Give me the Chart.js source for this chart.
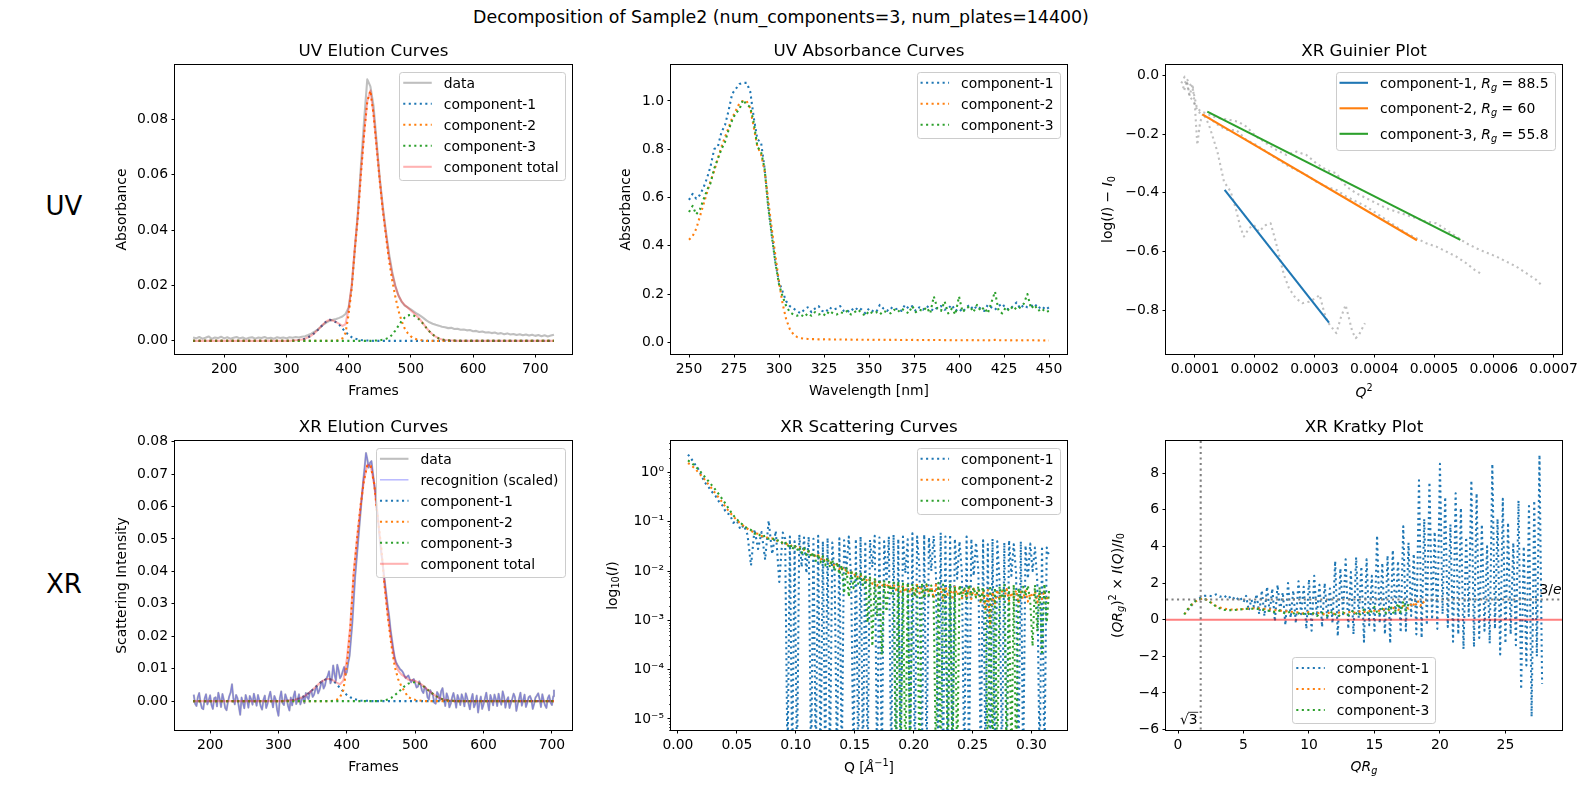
<!DOCTYPE html>
<html>
<head>
<meta charset="utf-8">
<title>Decomposition of Sample2</title>
<script src="https://cdn.jsdelivr.net/npm/chart.js"></script>
<style>
body { margin: 0; background: #fff; }
#fig { position: relative; width: 1589px; height: 789px; overflow: hidden; font-family: "DejaVu Sans", sans-serif; }
#fig canvas { position: absolute; left: 0; top: 0; }
.lbl { position: absolute; transform: translate(-50%, -50%); white-space: nowrap; line-height: 1; color: #000; }
</style>
</head>
<body>
<div id="fig">
  <div class="lbl" style="left:781px; top:18px; font-size:17.4px">Decomposition of Sample2 (num_components=3, num_plates=14400)</div>
  <div class="lbl" style="left:64px; top:206px; font-size:26px">UV</div>
  <div class="lbl" style="left:64px; top:584px; font-size:26px">XR</div>
</div>
<script>
// ---- UV elution ----
const UV_FRAMES = [150,155,160,165,170,175,180,185,190,195,200,205,210,215,220,225,230,235,240,245,
  250,255,260,265,270,275,280,285,290,295,300,305,310,315,320,325,330,335,340,345,
  350,355,360,365,370,375,380,385,390,395,400,405,410,415,420,425,430,435,440,445,
  450,455,460,465,470,475,480,485,490,495,500,505,510,515,520,525,530,535,540,545,
  550,555,560,565,570,575,580,585,590,595,600,605,610,615,620,625,630,635,640,645,
  650,655,660,665,670,675,680,685,690,695,700,705,710,715,720,725,730];
const UV_DATA = [0.0012,0.0009,0.0014,0.0008,0.0011,0.0016,0.0007,0.0012,0.0010,0.0015,
  0.0009,0.0013,0.0008,0.0011,0.0014,0.0009,0.0012,0.0007,0.0011,0.0013,
  0.0008,0.0012,0.0010,0.0014,0.0009,0.0011,0.0008,0.0013,0.0010,0.0012,
  0.0009,0.0013,0.0011,0.0014,0.0012,0.0015,0.0017,0.0021,0.0026,0.0033,
  0.0041,0.0050,0.0060,0.0067,0.0073,0.0076,0.0079,0.0083,0.0088,0.0097,
  0.0120,0.0195,0.0330,0.0470,0.0640,0.0800,0.0945,0.0920,0.0850,0.0720,
  0.0590,0.0485,0.0395,0.0315,0.0250,0.0200,0.0165,0.0142,0.0128,0.0121,
  0.0114,0.0106,0.0098,0.0091,0.0083,0.0074,0.0067,0.0062,0.0058,0.0055,
  0.0051,0.0049,0.0046,0.0047,0.0043,0.0044,0.0040,0.0041,0.0038,0.0039,
  0.0035,0.0036,0.0032,0.0034,0.0030,0.0031,0.0028,0.0030,0.0026,0.0028,
  0.0024,0.0027,0.0023,0.0025,0.0021,0.0024,0.0020,0.0023,0.0019,0.0022,
  0.0018,0.0021,0.0017,0.0020,0.0016,0.0019,0.0022];
const UV_FIT_X = [150,300,305,310,315,320,325,330,335,340,
  345,350,355,360,365,370,375,380,385,390,
  395,400,405,410,415,420,425,430,435,440,
  445,450,455,460,465,470,475,480,485,490,
  495,500,505,510,515,520,525,530,535,540,
  545,550,555,560,565,570,575,580,730];
const UV_C1 = [0,0,0,0.0001,0.0002,0.0003,0.0005,0.0008,0.0013,0.0019,
  0.0028,0.0038,0.005,0.0062,0.0072,0.0076,0.0073,0.0067,0.0058,0.0045,
  0.0032,0.0021,0.0013,0.0008,0.0005,0.0003,0.0002,0.0001,0.0001,0,
  0,0,0,0,0,0,0,0,0,0,
  0,0,0,0,0,0,0,0,0,0,
  0,0,0,0,0,0,0,0,0];
const UV_C2 = [0,0,0,0,0,0,0,0,0,0,
  0,0,0,0,0,0,0,0.0001,0.0003,0.0009,
  0.0028,0.0095,0.019,0.033,0.045,0.061,0.075,0.0865,0.0904,0.082,
  0.070,0.058,0.047,0.038,0.029,0.022,0.016,0.011,0.0073,0.0045,
  0.0028,0.0016,0.0009,0.0005,0.0003,0.0001,0,0,0,0,
  0,0,0,0,0,0,0,0,0];
const UV_C3 = [0,0,0,0,0,0,0,0,0,0,
  0,0,0,0,0,0,0,0,0,0,
  0,0,0,0,0,0,0,0,0,0.0001,
  0.0001,0.0002,0.0004,0.0007,0.0012,0.0022,0.0037,0.0054,0.0071,0.0084,
  0.0092,0.0094,0.0091,0.0084,0.0074,0.0061,0.0047,0.0034,0.0023,0.0015,
  0.0009,0.0005,0.0003,0.0002,0.0001,0.0001,0,0,0];
const UV_TOTAL = [0,0,0,0.0001,0.0002,0.0003,0.0005,0.0008,0.0013,0.0019,
  0.0028,0.0038,0.005,0.0062,0.0072,0.0076,0.0073,0.0068,0.0061,0.0054,
  0.006,0.0116,0.0203,0.0338,0.0455,0.0613,0.0752,0.0866,0.0905,0.0821,
  0.0701,0.0582,0.0474,0.0387,0.0302,0.0242,0.0197,0.0164,0.0144,0.0129,
  0.012,0.011,0.01,0.0089,0.0077,0.0062,0.0047,0.0034,0.0023,0.0015,
  0.0009,0.0005,0.0003,0.0002,0.0001,0.0001,0,0,0];
const UV_EL_XTICKS = [200,300,400,500,600,700];
const UV_EL_XLABELS = ['200','300','400','500','600','700'];
const UV_EL_YTICKS = [0,0.02,0.04,0.06,0.08];
const UV_EL_YLABELS = ['0.00','0.02','0.04','0.06','0.08'];

// ---- UV absorbance ----
const WL = [250,252,254,256,258,260,262,264,266,268,270,272,274,276,278,280,282,284,286,288,
  290,292,294,296,298,300,302,304,306,308,310,312,314,316,318,320,322,324,326,328,
  330,332,334,336,338,340,342,344,346,348,350,352,354,356,358,360,362,364,366,368,
  370,372,374,376,378,380,382,384,386,388,390,392,394,396,398,400,402,404,406,408,
  410,412,414,416,418,420,422,424,426,428,430,432,434,436,438,440,442,444,446,448,450];
const UV_A1 = [0.59,0.615,0.595,0.61,0.64,0.68,0.73,0.80,0.81,0.87,
  0.90,0.96,1.03,1.05,1.07,1.075,1.075,1.04,0.93,0.84,
  0.83,0.72,0.57,0.45,0.33,0.25,0.21,0.17,0.15,0.14,
  0.13,0.12,0.135,0.145,0.125,0.14,0.15,0.13,0.125,0.145,
  0.135,0.14,0.15,0.13,0.125,0.14,0.13,0.145,0.135,0.12,
  0.14,0.13,0.125,0.155,0.14,0.13,0.145,0.135,0.14,0.13,
  0.155,0.14,0.15,0.13,0.145,0.135,0.15,0.14,0.13,0.145,
  0.15,0.135,0.14,0.155,0.13,0.14,0.125,0.145,0.155,0.135,
  0.15,0.14,0.13,0.155,0.145,0.135,0.15,0.16,0.14,0.135,
  0.15,0.165,0.14,0.155,0.145,0.15,0.16,0.14,0.15,0.135,0.145];
const UV_A2 = [0.425,0.44,0.47,0.52,0.57,0.62,0.67,0.71,0.76,0.81,
  0.85,0.89,0.93,0.96,0.99,1.0,1.0,0.97,0.89,0.81,
  0.78,0.71,0.59,0.47,0.36,0.25,0.16,0.095,0.055,0.033,
  0.022,0.017,0.015,0.014,0.013,0.013,0.012,0.012,0.0125,0.012,
  0.0115,0.012,0.0115,0.011,0.0115,0.011,0.0105,0.011,0.0105,0.011,
  0.0105,0.01,0.011,0.0105,0.01,0.0105,0.01,0.0105,0.01,0.0095,
  0.01,0.0095,0.01,0.0095,0.009,0.0095,0.01,0.009,0.0095,0.009,
  0.0095,0.009,0.0085,0.009,0.0085,0.008,0.0085,0.009,0.0085,0.009,
  0.0085,0.009,0.0085,0.008,0.0085,0.01,0.0085,0.008,0.0085,0.008,
  0.0085,0.008,0.0085,0.008,0.0085,0.008,0.0085,0.008,0.0075,0.008,0.0075];
const UV_A3 = [0.54,0.565,0.53,0.55,0.59,0.63,0.66,0.72,0.76,0.80,
  0.83,0.88,0.92,0.95,0.965,1.005,0.985,0.975,0.91,0.81,
  0.79,0.72,0.56,0.44,0.33,0.24,0.19,0.15,0.125,0.115,
  0.11,0.115,0.105,0.12,0.11,0.125,0.115,0.12,0.11,0.13,
  0.12,0.115,0.125,0.12,0.13,0.115,0.125,0.135,0.12,0.11,
  0.13,0.12,0.125,0.115,0.13,0.125,0.12,0.135,0.125,0.14,
  0.13,0.12,0.15,0.125,0.135,0.13,0.145,0.12,0.19,0.14,
  0.13,0.17,0.12,0.14,0.115,0.19,0.125,0.14,0.15,0.125,
  0.155,0.13,0.145,0.12,0.165,0.21,0.13,0.12,0.145,0.13,
  0.15,0.135,0.145,0.16,0.20,0.14,0.155,0.13,0.14,0.125,0.13];
const UV_AB_XTICKS = [250,275,300,325,350,375,400,425,450];
const UV_AB_XLABELS = ['250','275','300','325','350','375','400','425','450'];
const UV_AB_YTICKS = [0,0.2,0.4,0.6,0.8,1.0];
const UV_AB_YLABELS = ['0.0','0.2','0.4','0.6','0.8','1.0'];

// ---- XR Guinier ----
const GUI_A_X = [0.0000822,0.0000866,0.0000911,0.000096,0.0001,0.0001039,0.0001085,0.000114,0.0001234,0.0001375,
  0.0001485,0.0001597,0.0001681,0.0001764,0.000182,0.0001903,0.0001987,0.000207,0.0002183,0.0002266,
  0.000235,0.0002433,0.0002489,0.0002572,0.0002684,0.0002796,0.0002907,0.0003019,0.0003086,0.0003158,
  0.0003215,0.0003298,0.0003365,0.0003437,0.000352,0.0003576,0.0003632,0.0003688,0.0003743,0.00038,0.0003844];
const GUI_A_Y = [-0.05,-0.02,-0.07,-0.03,-0.11,-0.237,-0.16,-0.13,-0.169,-0.26,
  -0.362,-0.396,-0.453,-0.521,-0.549,-0.521,-0.51,-0.532,-0.51,-0.504,
  -0.566,-0.635,-0.68,-0.725,-0.759,-0.776,-0.771,-0.759,-0.748,-0.805,
  -0.839,-0.861,-0.878,-0.827,-0.782,-0.827,-0.873,-0.895,-0.884,-0.861,-0.844];
const GUI_B_X = [0.0000799,0.0000855,0.0000911,0.0000978,0.000105,0.0001134,0.0001245,0.0001385,0.0001524,0.0001691,
  0.0001859,0.0002026,0.0002193,0.0002361,0.0002528,0.0002695,0.0002863,0.000303,0.0003197,0.0003364,
  0.0003532,0.0003699,0.0003866,0.0004034,0.0004201,0.0004368,0.0004535,0.0004703,0.000487,0.0005037,
  0.0005205,0.0005372,0.0005539,0.0005679,0.0005773];
const GUI_B_Y = [-0.0443,-0.0159,-0.0726,-0.0896,-0.1237,-0.135,-0.1464,-0.1691,-0.1861,-0.1861,
  -0.2201,-0.2372,-0.2599,-0.2826,-0.3052,-0.3223,-0.3393,-0.362,-0.379,-0.3904,
  -0.413,-0.4301,-0.4471,-0.4698,-0.4925,-0.5152,-0.5379,-0.5549,-0.5719,-0.5833,
  -0.6003,-0.6173,-0.64,-0.6627,-0.674];
const GUI_C_X = [0.0000771,0.0000827,0.0000866,0.0000911,0.0000967,0.0001033,0.0001106,0.000119,0.0001301,0.0001413,
  0.000158,0.0001719,0.0001859,0.0002026,0.0002193,0.0002361,0.0002528,0.0002695,0.0002863,0.000303,
  0.0003197,0.0003364,0.0003532,0.0003699,0.0003866,0.0004034,0.0004201,0.0004368,0.0004535,0.0004703,
  0.000487,0.0005037,0.0005205,0.0005372,0.0005539,0.0005706,0.0005874,0.0006041,0.0006208,0.0006376,
  0.0006543,0.000671,0.0006822];
const GUI_C_Y = [-0.0272,-0.0045,-0.0136,-0.0272,-0.0499,-0.1123,-0.1237,-0.1294,-0.1407,-0.1464,
  -0.1521,-0.1577,-0.1748,-0.2088,-0.2315,-0.2542,-0.2712,-0.2599,-0.2712,-0.2996,
  -0.3223,-0.3336,-0.379,-0.4017,-0.4187,-0.4357,-0.4528,-0.4641,-0.4755,-0.4868,
  -0.4982,-0.5038,-0.5265,-0.5492,-0.5719,-0.5889,-0.6037,-0.6173,-0.6343,-0.6514,
  -0.674,-0.6967,-0.7194];
const GUI_FIT1_X = [0.0001496,0.0003242], GUI_FIT1_Y = [-0.390,-0.842];
const GUI_FIT2_X = [0.0001123,0.0004714], GUI_FIT2_Y = [-0.1328,-0.5617];
const GUI_FIT3_X = [0.0001206,0.0005439], GUI_FIT3_Y = [-0.1237,-0.5606];
const RG = ['88.5','60','55.8'];
const GUI_XTICKS = [0.0001,0.0002,0.0003,0.0004,0.0005,0.0006,0.0007];
const GUI_XLABELS = ['0.0001','0.0002','0.0003','0.0004','0.0005','0.0006','0.0007'];
const GUI_YTICKS = [-0.8,-0.6,-0.4,-0.2,0];
const GUI_YLABELS = ['\u22120.8','\u22120.6','\u22120.4','\u22120.2','0.0'];

// ---- XR elution ----
const XR_FRAMES = [176,178,180,182,184,186,188,190,192,194,196,198,200,202,204,206,208,210,212,214,
  216,218,220,222,224,226,228,230,232,234,236,238,240,242,244,246,248,250,252,254,
  256,258,260,262,264,266,268,270,272,274,276,278,280,282,284,286,288,290,292,294,
  296,298,300,302,304,306,308,310,312,314,316,318,320,322,324,326,328,330,332,334,
  336,338,340,342,344,346,348,350,352,354,356,358,360,362,364,366,368,370,372,374,
  376,378,380,382,384,386,388,390,392,394,396,398,400,402,404,406,408,410,412,414,
  416,418,420,422,424,426,428,430,432,434,436,438,440,442,444,446,448,450,452,454,
  456,458,460,462,464,466,468,470,472,474,476,478,480,482,484,486,488,490,492,494,
  496,498,500,502,504,506,508,510,512,514,516,518,520,522,524,526,528,530,532,534,
  536,538,540,542,544,546,548,550,552,554,556,558,560,562,564,566,568,570,572,574,
  576,578,580,582,584,586,588,590,592,594,596,598,600,602,604,606,608,610,612,614,
  616,618,620,622,624,626,628,630,632,634,636,638,640,642,644,646,648,650,652,654,
  656,658,660,662,664,666,668,670,672,674,676,678,680,682,684,686,688,690,692,694,
  696,698,700,702,703];
const XR_DATA = [0.002,-0.0008,-0.0015,0.0012,0.0025,-0.0005,-0.0022,-0.0025,0.0008,0.0021,
  -0.001,0.0003,0.0018,-0.0012,-0.0024,0.0009,0.0012,-0.0016,0.0026,0.0007,
  -0.0018,0.0022,0.0004,-0.0021,-0.0028,-0.0003,0.0015,0.0027,0.0052,0.0008,
  -0.001,0.0019,0.0009,-0.0017,-0.0042,0.0011,-0.0005,-0.0022,0.0019,0.0004,
  -0.002,0.0016,0.0006,-0.0011,0.0023,0.0005,-0.0014,0.0019,0.0002,-0.0016,
  -0.0026,0.0004,0.0017,-0.0021,-0.0008,0.0013,0.0029,0.0004,-0.0019,0.0016,
  0.0005,-0.0027,-0.0045,0.0009,0.003,-0.0006,-0.0012,0.0021,0.0008,-0.0015,
  -0.0029,0.0011,-0.0013,0.0014,0.003,-0.0009,0.0004,0.0021,-0.001,0.0004,
  0.0015,-0.0006,0.0025,0.0012,0.0006,0.0028,0.0032,0.0013,0.002,0.0036,
  0.0045,0.0024,0.0034,0.0051,0.0062,0.0039,0.0048,0.0069,0.0078,0.0092,
  0.0055,0.0067,0.011,0.0083,0.0063,0.0112,0.0095,0.0071,0.0078,0.0092,
  0.0105,0.0081,0.009,0.0118,0.014,0.019,0.024,0.031,0.038,0.043,
  0.048,0.053,0.058,0.063,0.068,0.072,0.0765,0.0745,0.072,0.0735,
  0.074,0.0705,0.067,0.064,0.06,0.055,0.05,0.046,0.043,0.0395,
  0.036,0.0325,0.029,0.026,0.022,0.019,0.016,0.0135,0.012,0.0112,
  0.0105,0.0098,0.0095,0.0089,0.008,0.0071,0.0075,0.0079,0.0068,0.0058,
  0.0065,0.0068,0.0055,0.0042,0.0045,0.0061,0.005,0.0032,0.0025,0.0045,
  0.0038,0.0012,0.0005,0.0034,0.0025,0.0018,-0.0005,-0.0008,0.0028,0.0021,
  0.0002,0.0031,0.004,0.0009,-0.0015,0.0024,0.0012,-0.0019,-0.0008,0.0011,
  0.0025,0.0005,-0.002,0.0019,0.0006,-0.0012,0.0021,0.0008,-0.0016,0.0024,
  0.001,-0.0007,-0.0025,0.0005,0.0022,-0.0019,-0.0008,0.0017,-0.0035,-0.0006,
  0.0014,-0.0024,-0.001,0.0008,0.0026,-0.0004,-0.0028,0.0019,0.0005,-0.0013,
  0.002,0.0006,-0.0015,0.0023,0.0003,-0.0011,0.003,0.0014,-0.002,0.0003,
  0.0012,-0.0021,-0.0006,0.0007,0.0023,0.0012,-0.003,-0.0009,0.0008,0.0026,
  -0.0014,0.0002,0.002,-0.0018,-0.0005,0.0012,0.0016,0.0004,-0.0024,-0.0008,
  0.0011,0.0017,0.0024,0.0006,-0.0018,0.0021,0.0002,-0.0013,-0.0021,0.0009,
  0.0018,-0.0004,-0.0012,0.0015,0.0035];
const XR_FIT_X = [175,300,305,310,315,320,325,330,335,340,
  345,350,355,360,365,370,375,380,385,390,
  395,400,405,410,415,420,425,430,435,440,
  445,450,455,460,465,470,475,480,485,490,
  495,500,505,510,515,520,525,530,535,540,
  545,550,555,560,565,570,575,580,703];
const XR_C1 = [0,0,0,0.0001,0.0002,0.0003,0.0005,0.0008,0.0012,0.0018,
  0.0026,0.0035,0.0045,0.0055,0.0063,0.0068,0.0068,0.0063,0.0053,0.004,
  0.0029,0.0019,0.0012,0.0007,0.0004,0.0002,0.0001,0.0001,0,0,
  0,0,0,0,0,0,0,0,0,0,
  0,0,0,0,0,0,0,0,0,0,
  0,0,0,0,0,0,0,0,0];
const XR_C2 = [0,0,0,0,0,0,0,0,0,0,
  0,0,0,0,0,0,0,0.0001,0.0004,0.0012,
  0.0035,0.011,0.022,0.039,0.050,0.060,0.068,0.0728,0.0725,0.067,
  0.057,0.048,0.036,0.026,0.0175,0.0107,0.0068,0.0045,0.0028,0.0012,
  0.0007,0.0004,0.0002,0.0001,0,0,0,0,0,0,
  0,0,0,0,0,0,0,0,0];
const XR_C3 = [0,0,0,0,0,0,0,0,0,0,
  0,0,0,0,0,0,0,0,0,0,
  0,0,0,0,0,0,0,0,0,0,
  0,0.0001,0.0002,0.0005,0.001,0.0018,0.0027,0.0037,0.0047,0.0054,
  0.0058,0.0058,0.0055,0.0049,0.0041,0.0032,0.0024,0.0016,0.001,0.0006,
  0.0003,0.0002,0.0001,0,0,0,0,0,0];
const XR_TOTAL = [0,0,0,0.0001,0.0002,0.0003,0.0005,0.0008,0.0012,0.0018,
  0.0026,0.0035,0.0045,0.0055,0.0063,0.0068,0.0068,0.0064,0.0057,0.0052,
  0.0064,0.0129,0.0232,0.0397,0.0504,0.0602,0.0681,0.0729,0.0725,0.067,
  0.057,0.0481,0.0362,0.0265,0.0185,0.0125,0.0095,0.0082,0.0075,0.0066,
  0.0065,0.0062,0.0057,0.005,0.0041,0.0032,0.0024,0.0016,0.001,0.0006,
  0.0003,0.0002,0.0001,0,0,0,0,0,0];
const XR_EL_YTICKS = [0,0.01,0.02,0.03,0.04,0.05,0.06,0.07,0.08];
const XR_EL_YLABELS = ['0.00','0.01','0.02','0.03','0.04','0.05','0.06','0.07','0.08'];

// ---- XR scattering (values below the axis floor read as 1e-6) ----
const XR_Q = [0.0085,0.011,0.014,0.017,0.020,0.023,0.026,0.029,0.032,0.035,
  0.038,0.041,0.044,0.047,0.050,0.053,0.056,0.059,0.062,0.065,
  0.068,0.071,0.074,0.077,0.080,0.083,0.086,0.089,
  0.091,0.093,0.095,0.097,0.099,0.101,0.103,0.105,0.107,0.109,
  0.111,0.113,0.115,0.117,0.119,0.121,0.123,0.125,0.127,0.129,
  0.131,0.133,0.135,0.137,0.139,0.141,0.143,0.145,0.147,0.149,
  0.151,0.153,0.155,0.157,0.159,0.161,0.163,0.165,0.167,0.169,
  0.171,0.173,0.175,0.177,0.179,0.181,0.183,0.185,0.187,0.189,
  0.191,0.193,0.195,0.197,0.199,0.201,0.203,0.205,0.207,0.209,
  0.211,0.213,0.215,0.217,0.219,0.221,0.223,0.225,0.227,0.229,
  0.231,0.233,0.235,0.237,0.239,0.241,0.243,0.245,0.247,0.249,
  0.251,0.253,0.255,0.257,0.259,0.261,0.263,0.265,0.267,0.269,
  0.271,0.273,0.275,0.277,0.279,0.281,0.283,0.285,0.287,0.289,
  0.291,0.293,0.295,0.297,0.299,0.301,0.303,0.305,0.307,0.309,
  0.311,0.313,0.315];
const XR_I1 = [2.3,1.95,1.5,1.2,0.85,0.62,0.50,0.40,0.33,0.25,
  0.21,0.15,0.14,0.095,0.105,0.07,0.085,0.055,0.013,0.07,
  0.028,0.062,0.017,0.105,0.022,0.065,0.006,0.06,
  0.045,1e-6,0.05,1e-6,0.04,1e-6,0.055,0.012,0.048,0.009,
  0.05,1e-6,0.045,1e-6,0.052,1e-6,0.04,1e-6,0.047,1e-6,
  0.038,0.008,1e-6,0.046,1e-6,0.042,0.01,0.05,0.007,1e-6,
  0.045,1e-6,0.05,1e-6,0.04,1e-6,0.043,0.012,0.052,1e-6,
  0.048,1e-6,0.04,0.006,0.05,1e-6,0.055,1e-6,0.045,1e-6,
  0.05,0.009,0.044,1e-6,0.058,1e-6,0.05,0.011,1e-6,0.055,
  1e-6,0.048,0.01,0.052,0.008,1e-6,0.06,1e-6,0.05,1e-6,
  0.055,1e-6,0.045,0.007,0.04,0.009,1e-6,0.05,1e-6,0.045,
  0.008,0.038,0.01,1e-6,0.042,1e-6,0.035,1e-6,0.045,1e-6,
  0.04,0.006,1e-6,0.038,1e-6,0.042,0.008,0.035,0.009,1e-6,
  0.04,1e-6,0.033,0.007,0.036,0.01,0.03,0.006,1e-6,0.032,
  1e-6,0.03,0.02];
const XR_I2 = [1.55,1.42,1.22,1.02,0.85,0.70,0.57,0.46,0.37,0.30,
  0.24,0.19,0.155,0.128,0.107,0.092,0.081,0.072,0.066,0.058,
  0.057,0.051,0.050,0.046,0.046,0.041,0.041,0.037,
  0.038,0.034,0.035,0.031,0.033,0.029,0.030,0.026,0.027,0.024,
  0.025,0.021,0.023,0.019,0.021,0.017,0.019,0.015,0.017,0.0145,
  0.0155,0.0125,0.014,0.011,0.0125,0.0098,0.011,0.0088,0.0097,0.0079,
  0.0089,0.0072,0.0082,0.0066,0.0074,0.0059,0.0068,0.0055,0.0064,0.005,
  0.0062,0.0049,0.0058,0.0046,0.0056,0.0042,0.0054,0.0041,0.0051,0.0038,
  0.005,0.0037,0.0052,0.0036,0.0049,0.0033,0.0055,0.0035,0.0047,0.0031,
  0.0051,0.0036,0.0048,0.0028,0.0053,0.0034,0.0046,0.0024,0.0049,0.0033,
  0.0044,0.0029,0.0048,0.0032,0.0045,0.0028,0.0043,0.0031,0.0047,0.0027,
  0.0044,0.003,0.0042,0.0022,0.004,0.0016,0.0041,0.0008,0.0038,0.0021,
  0.0042,0.0026,0.0039,0.0029,0.0043,0.0025,0.0037,0.0028,0.0041,0.0022,
  0.0038,0.0027,0.004,0.0024,0.0036,0.0029,0.0039,0.0023,0.0037,0.0027,
  0.004,0.0025,0.0035];
const XR_I3 = [1.75,1.60,1.38,1.18,0.98,0.80,0.66,0.54,0.44,0.35,
  0.28,0.22,0.17,0.135,0.112,0.095,0.083,0.073,0.068,0.057,
  0.058,0.049,0.052,0.045,0.047,0.040,0.043,0.036,
  0.039,0.031,0.036,0.027,0.034,0.026,0.031,0.023,0.029,0.021,
  0.026,0.019,0.024,0.016,0.022,0.015,0.020,0.013,0.019,0.012,
  0.017,0.010,0.015,0.0085,0.013,0.0035,0.012,0.003,0.0105,0.0045,
  0.0095,0.0055,0.0088,0.0052,0.0082,0.0009,0.0078,0.0003,0.0072,0.0012,
  0.0068,0.0002,0.0065,0.0015,0.006,0.0035,0.0058,1e-6,0.0062,1e-6,
  0.0056,1e-6,0.0058,2e-6,0.0055,0.003,0.0052,1e-6,0.0057,0.0028,
  0.0054,0.0032,0.0051,0.0026,1e-6,0.0058,1e-6,0.0053,0.0031,1e-6,
  0.0055,1e-6,0.0049,1e-6,0.0052,0.003,0.0048,0.0027,0.0053,0.0031,
  0.0046,0.0029,0.0049,0.0025,0.0047,0.0022,1e-6,0.0051,1e-6,0.0046,
  1e-6,0.0049,0.0028,0.0052,1e-6,0.0047,1e-6,0.0053,1e-6,0.0045,
  0.0026,0.0048,0.0031,0.0051,0.0024,0.0003,0.0052,0.0006,0.0047,0.0002,
  0.0055,0.0009,0.0042];
const SC_XTICKS = [0,0.05,0.10,0.15,0.20,0.25,0.30];
const SC_XLABELS = ['0.00','0.05','0.10','0.15','0.20','0.25','0.30'];
const SC_YTICKS = [1e-5,1e-4,1e-3,1e-2,1e-1,1];
const SC_YLABELS = ['10\u207B\u2075','10\u207B\u2074','10\u207B\u00B3','10\u207B\u00B2','10\u207B\u00B9','10\u2070'];

// ---- XR Kratky ----
const KR_X1 = [0.75,1.0,1.25,1.5,1.75,2.0,2.3,2.6,2.9,3.2,3.5,3.8,4.1,4.4,4.7,5.0,
  5.2,5.4,5.6,5.8,6.0,6.2,6.4,6.6,6.8,7.0,
  7.2,7.4,7.6,7.8,8.0,8.2,8.4,8.6,8.8,9.0,
  9.2,9.4,9.6,9.8,10.0,10.2,10.4,10.6,10.8,11.0,
  11.2,11.4,11.6,11.8,12.0,12.2,12.4,12.6,12.8,13.0,
  13.2,13.4,13.6,13.8,14.0,14.2,14.4,14.6,14.8,15.0,
  15.2,15.4,15.6,15.8,16.0,16.2,16.4,16.6,16.8,17.0,
  17.2,17.4,17.6,17.8,18.0,18.2,18.4,18.6,18.8,19.0,
  19.2,19.4,19.6,19.8,20.0,20.2,20.4,20.6,20.8,21.0,
  21.2,21.4,21.6,21.8,22.0,22.2,22.4,22.6,22.8,23.0,
  23.2,23.4,23.6,23.8,24.0,24.2,24.4,24.6,24.8,25.0,
  25.2,25.4,25.6,25.8,26.0,26.2,26.4,26.6,26.8,27.0,
  27.2,27.4,27.6,27.8];
const KR_Y1 = [0.52,0.75,0.95,1.1,1.22,1.3,1.32,1.28,1.38,1.25,1.33,1.15,1.3,1.05,1.25,0.95,
  1.3,0.5,1.1,0.7,1.4,0.3,1.6,0.2,1.8,0.4,
  1.7,-0.1,1.9,0.5,1.5,-0.3,2.0,0.1,1.6,-0.2,
  2.1,0.3,1.8,-0.5,2.2,-0.6,2.4,0.2,1.9,-0.4,
  2.0,0.0,1.7,-0.2,3.2,-0.9,2.8,0.3,3.3,-0.5,
  2.6,-0.8,3.4,0.1,2.9,-1.2,3.3,-0.3,2.4,-0.6,
  4.6,-0.2,3.1,-0.8,3.5,-1.3,3.8,0.2,3.2,-0.7,
  5.1,-0.6,4.2,0.2,3.6,-0.8,7.6,-1.0,5.5,-0.3,
  7.5,0.0,4.8,-0.5,8.5,0.3,6.7,-0.4,5.2,-1.2,
  6.9,-0.8,6.1,-1.6,4.5,0.2,7.6,-1.5,6.9,-1.0,
  5.2,-0.6,4.0,-1.3,8.5,-0.5,5.5,-1.9,6.6,-1.3,
  5.3,-0.8,4.2,-1.4,6.5,-3.8,4.0,-2.5,6.2,-5.3,
  6.5,-2.0,9.0,-3.5];
const KR_X2 = [0.5,0.7,0.9,1.1,1.3,1.5,1.7,1.9,2.1,2.3,2.5,2.7,2.9,3.1,3.4,3.7,4.0,4.4,4.8,5.2,
  5.6,6.0,6.4,6.8,7.2,7.6,8.0,8.4,8.8,9.2,9.6,10.0,10.4,10.8,11.2,11.6,12.0,12.4,12.8,13.2,
  13.6,14.0,14.4,14.8,15.2,15.6,16.0,16.4,16.8,17.2,17.6,17.9,18.1,18.3,18.5,18.7,18.9];
const KR_Y2 = [0.3,0.5,0.7,0.85,0.97,1.07,1.12,1.15,1.12,1.05,0.95,0.85,0.75,0.68,0.62,0.58,0.56,0.55,0.57,0.6,
  0.62,0.63,0.6,0.58,0.55,0.5,0.48,0.45,0.42,0.4,0.33,0.42,0.3,0.38,0.28,0.4,0.3,0.42,0.33,0.45,
  0.35,0.5,0.38,0.55,0.42,0.6,0.48,0.65,0.52,0.75,0.6,0.95,0.7,1.05,0.75,1.0,0.8];
const KR_X3 = [0.47,0.65,0.85,1.05,1.25,1.45,1.65,1.85,2.05,2.25,2.45,2.65,2.85,3.05,3.3,3.6,3.9,4.2,4.6,5.0,
  5.4,5.8,6.2,6.6,7.0,7.4,7.8,8.2,8.6,9.0,9.4,9.8,10.2,10.6,11.0,11.4,11.8,12.2,12.6,13.0,
  13.4,13.8,14.2,14.6,15.0,15.3,15.6,15.9,16.2,16.5,16.8,17.0,17.2,17.4,17.6];
const KR_Y3 = [0.28,0.48,0.68,0.85,0.98,1.07,1.13,1.15,1.12,1.05,0.95,0.85,0.75,0.66,0.58,0.53,0.52,0.51,0.55,0.58,
  0.6,0.6,0.58,0.52,0.48,0.42,0.5,0.32,0.45,0.28,0.4,0.25,0.42,0.2,0.38,0.22,0.45,0.15,0.4,0.25,
  0.5,0.2,0.55,0.3,0.7,0.25,0.6,0.35,0.75,0.3,0.9,0.4,1.0,0.5,0.85];
const KR_HLINE = 3 / Math.E;      // 3/e guide
const KR_VLINE = Math.sqrt(3);    // sqrt(3) guide
const KR_XTICKS = [0,5,10,15,20,25];
const KR_XLABELS = ['0','5','10','15','20','25'];
const KR_YTICKS = [-6,-4,-2,0,2,4,6,8];
const KR_YLABELS = ['\u22126','\u22124','\u22122','0','2','4','6','8'];

// ---------- styling helpers ----------
const C0 = '#1f77b4', C1 = '#ff7f0e', C2 = '#2ca02c';
const LW = 2.08;
const DOT = [2.08, 3.43];
const FAM = '"DejaVu Sans"';
const TICK_PX = 13.9, TITLE_PX = 16.7;
Chart.defaults.font.family = 'DejaVu Sans';
Chart.defaults.color = '#000';

function xy(xs, ys) { return xs.map((x, i) => ({x: x, y: ys[i]})); }
function line(xs, ys, color, extra) {
  return Object.assign({
    data: xy(xs, ys), borderColor: color, borderWidth: LW, showLine: true,
    pointRadius: 0, pointHoverRadius: 0, borderJoinStyle: 'round', tension: 0, fill: false
  }, extra || {});
}
function dotted(xs, ys, color, label) { return line(xs, ys, color, {borderDash: DOT, label: label}); }

// tiny mathtext: $..$ = math (letters italic), _x / _{..} sub, ^x / ^{..} sup
function parseRich(str) {
  const out = [];
  let math = false, i = 0;
  const push = (t, it, s) => {
    const last = out[out.length - 1];
    if (last && last.it === it && last.s === s) last.t += t; else out.push({t: t, it: it, s: s});
  };
  while (i < str.length) {
    const c = str[i];
    if (c === '$') { math = !math; i++; continue; }
    if (math && (c === '_' || c === '^')) {
      let t; i++;
      if (str[i] === '{') { const j = str.indexOf('}', i); t = str.slice(i + 1, j); i = j + 1; }
      else { t = str[i]; i++; }
      for (const ch of t) push(ch, /\p{L}/u.test(ch), c === '_' ? 'sub' : 'sup');
      continue;
    }
    push(c, math && /\p{L}/u.test(c), '');
    i++;
  }
  return out;
}
function segFont(g, size) {
  const s = g.s ? size * 0.7 : size;
  return (g.it ? 'italic ' : '') + s.toFixed(2) + 'px ' + FAM;
}
function layoutRich(ctx, str, size) {
  const segs = parseRich(str);
  let w = 0;
  segs.forEach(g => { ctx.font = segFont(g, size); g.x = w; g.w = ctx.measureText(g.t).width; w += g.w; });
  return {segs: segs, w: w};
}
function drawRich(ctx, str, x, cy, size, align) {
  const L = layoutRich(ctx, str, size);
  const x0 = align === 'center' ? x - L.w / 2 : align === 'right' ? x - L.w : x;
  const base = cy + 0.36 * size;
  ctx.textAlign = 'left';
  ctx.textBaseline = 'alphabetic';
  ctx.fillStyle = '#000';
  L.segs.forEach(g => {
    ctx.font = segFont(g, size);
    const dy = g.s === 'sub' ? 0.2 * size : g.s === 'sup' ? -0.4 * size : 0;
    ctx.fillText(g.t, x0 + g.x, base + dy);
  });
  return L.w;
}

function drawLegend(ctx, a, p) {
  const lg = p.legend;
  const items = p.datasets.filter(d => d.label);
  let tw = 0;
  items.forEach(d => { tw = Math.max(tw, layoutRich(ctx, d.label, TICK_PX).w); });
  const w = 4 + 28.5 + 12 + tw + 6.5;
  const h = 10.8 + (items.length - 1) * lg.rowH + lg.padB;
  const x = lg.loc === 'lower center' ? (a.left + a.right) / 2 - w / 2 : a.right - 7 - w;
  const y = lg.loc === 'lower center' ? a.bottom - 7 - h : a.top + 7;
  ctx.save();
  ctx.beginPath();
  ctx.roundRect(Math.round(x) + 0.5, Math.round(y) + 0.5, Math.round(w), Math.round(h), 2.8);
  ctx.fillStyle = 'rgba(255,255,255,0.8)';
  ctx.fill();
  ctx.setLineDash([]);
  ctx.lineWidth = 1;
  ctx.strokeStyle = '#cccccc';
  ctx.stroke();
  items.forEach((d, i) => {
    const cy = y + 10.8 + i * lg.rowH;
    ctx.beginPath();
    ctx.setLineDash(d.borderDash || []);
    ctx.lineWidth = d.borderWidth;
    ctx.strokeStyle = d.borderColor;
    ctx.moveTo(x + 4, cy);
    ctx.lineTo(x + 32.5, cy);
    ctx.stroke();
    ctx.setLineDash([]);
    drawRich(ctx, d.label, x + 44.5, cy, TICK_PX, 'left');
  });
  ctx.restore();
}

function axisOpts(ax, which) {
  return {
    type: ax.log ? 'logarithmic' : 'linear',
    position: which === 'x' ? 'bottom' : 'left',
    min: ax.min, max: ax.max, bounds: 'data',
    afterBuildTicks: s => { s.ticks = ax.ticks.map(v => ({value: v})); },
    afterFit: s => { if (which === 'x') s.height = 30; else s.width = 50; },
    ticks: {
      autoSkip: false, maxRotation: 0, minRotation: 0, padding: 3.5, color: '#000',
      font: {family: 'DejaVu Sans', size: TICK_PX},
      callback: (v, i) => ax.labels[i]
    },
    grid: { drawOnChartArea: false, drawTicks: true, tickLength: 3.5, tickWidth: 1, tickColor: '#000' },
    border: { display: false }
  };
}

function mplPlugin(p) {
  return {
    id: 'mpl',
    afterDatasetsDraw(chart) {
      const ctx = chart.ctx, a = chart.chartArea;
      const xs = chart.scales.x, ys = chart.scales.y;
      ctx.save();
      if (p.extras) p.extras(ctx, a, xs, ys);
      ctx.setLineDash([]);
      ctx.strokeStyle = '#000';
      ctx.lineWidth = 1;
      ctx.strokeRect(a.left - 0.5, a.top - 0.5, a.right - a.left + 1, a.bottom - a.top + 1);
      ctx.restore();
      drawLegend(ctx, a, p);
    },
    afterDraw(chart) {
      const ctx = chart.ctx, a = chart.chartArea;
      ctx.save();
      drawRich(ctx, p.title, (a.left + a.right) / 2, p.titleY, TITLE_PX, 'center');
      drawRich(ctx, p.xLabel, (a.left + a.right) / 2, p.xLabelY, TICK_PX, 'center');
      ctx.translate(p.yLabelX, (a.top + a.bottom) / 2);
      ctx.rotate(-Math.PI / 2);
      drawRich(ctx, p.yLabel, 0, 0, TICK_PX, 'center');
      ctx.restore();
    }
  };
}

// ---------- panels ----------
const PANELS = [
  {
    box: [175, 65, 572, 354], title: 'UV Elution Curves', titleY: 49.5,
    xLabel: 'Frames', xLabelY: 390, yLabel: 'Absorbance', yLabelX: 120.7,
    x: {min: 121, max: 759, ticks: UV_EL_XTICKS, labels: UV_EL_XLABELS},
    y: {min: -0.00475, max: 0.0997, ticks: UV_EL_YTICKS, labels: UV_EL_YLABELS},
    legend: {loc: 'upper right', rowH: 21, padB: 13},
    datasets: [
      line(UV_FRAMES, UV_DATA, 'rgba(128,128,128,0.5)', {label: 'data'}),
      dotted(UV_FIT_X, UV_C1, C0, 'component-1'),
      dotted(UV_FIT_X, UV_C2, C1, 'component-2'),
      dotted(UV_FIT_X, UV_C3, C2, 'component-3'),
      line(UV_FIT_X, UV_TOTAL, 'rgba(255,0,0,0.3)', {label: 'component total'})
    ]
  },
  {
    box: [671, 65, 1067, 354], title: 'UV Absorbance Curves', titleY: 49.5,
    xLabel: 'Wavelength [nm]', xLabelY: 390, yLabel: 'Absorbance', yLabelX: 625,
    x: {min: 240, max: 460, ticks: UV_AB_XTICKS, labels: UV_AB_XLABELS},
    y: {min: -0.0485, max: 1.149, ticks: UV_AB_YTICKS, labels: UV_AB_YLABELS},
    legend: {loc: 'upper right', rowH: 21, padB: 13},
    datasets: [
      dotted(WL, UV_A1, C0, 'component-1'),
      dotted(WL, UV_A2, C1, 'component-2'),
      dotted(WL, UV_A3, C2, 'component-3')
    ]
  },
  {
    box: [1166, 65, 1562, 354], title: 'XR Guinier Plot', titleY: 49.5,
    xLabel: '$Q^2$', xLabelY: 392, yLabel: 'log($I$) \u2212 $I_0$', yLabelX: 1107.3,
    x: {min: 0.0000515, max: 0.000714, ticks: GUI_XTICKS, labels: GUI_XLABELS},
    y: {min: -0.949, max: 0.035, ticks: GUI_YTICKS, labels: GUI_YLABELS},
    legend: {loc: 'upper right', rowH: 25.5, padB: 16.4},
    datasets: [
      line(GUI_A_X, GUI_A_Y, 'rgba(128,128,128,0.5)', {borderDash: DOT}),
      line(GUI_B_X, GUI_B_Y, 'rgba(128,128,128,0.5)', {borderDash: DOT}),
      line(GUI_C_X, GUI_C_Y, 'rgba(128,128,128,0.5)', {borderDash: DOT}),
      line(GUI_FIT1_X, GUI_FIT1_Y, C0, {label: 'component-1, $R_g = ' + RG[0] + '$'}),
      line(GUI_FIT2_X, GUI_FIT2_Y, C1, {label: 'component-2, $R_g = ' + RG[1] + '$'}),
      line(GUI_FIT3_X, GUI_FIT3_Y, C2, {label: 'component-3, $R_g = ' + RG[2] + '$'})
    ]
  },
  {
    box: [175, 441, 572, 730], title: 'XR Elution Curves', titleY: 425.8,
    xLabel: 'Frames', xLabelY: 766, yLabel: 'Scattering Intensity', yLabelX: 120.7,
    x: {min: 148.6, max: 729.4, ticks: UV_EL_XTICKS, labels: UV_EL_XLABELS},
    y: {min: -0.0089, max: 0.0802, ticks: XR_EL_YTICKS, labels: XR_EL_YLABELS},
    legend: {loc: 'upper right', rowH: 21, padB: 13},
    datasets: [
      line(XR_FRAMES, XR_DATA, 'rgba(128,128,128,0.5)', {label: 'data'}),
      line(XR_FRAMES, XR_DATA, 'rgba(0,0,255,0.3)', {label: 'recognition (scaled)', borderWidth: 1.39}),
      dotted(XR_FIT_X, XR_C1, C0, 'component-1'),
      dotted(XR_FIT_X, XR_C2, C1, 'component-2'),
      dotted(XR_FIT_X, XR_C3, C2, 'component-3'),
      line(XR_FIT_X, XR_TOTAL, 'rgba(255,0,0,0.3)', {label: 'component total'})
    ]
  },
  {
    box: [671, 441, 1067, 730], title: 'XR Scattering Curves', titleY: 425.8,
    xLabel: 'Q [$\u00C5^{\u22121}$]', xLabelY: 767, yLabel: 'log$_{10}$($I$)', yLabelX: 611.7,
    x: {min: -0.0059, max: 0.3302, ticks: SC_XTICKS, labels: SC_XLABELS},
    y: {log: true, min: 5.98e-6, max: 4.33, ticks: SC_YTICKS, labels: SC_YLABELS},
    legend: {loc: 'upper right', rowH: 21, padB: 13},
    datasets: [
      dotted(XR_Q, XR_I1, C0, 'component-1'),
      dotted(XR_Q, XR_I2, C1, 'component-2'),
      dotted(XR_Q, XR_I3, C2, 'component-3')
    ],
    extras(ctx, a, xs, ys) {
      // log minor ticks
      ctx.strokeStyle = '#000';
      ctx.lineWidth = 0.7;
      ctx.setLineDash([]);
      for (let k = -6; k <= 0; k++) {
        for (let m = 2; m <= 9; m++) {
          const v = m * Math.pow(10, k);
          if (v <= ys.min || v >= ys.max) continue;
          const py = Math.round(ys.getPixelForValue(v)) + 0.5;
          ctx.beginPath(); ctx.moveTo(a.left, py); ctx.lineTo(a.left - 2, py); ctx.stroke();
        }
      }
    }
  },
  {
    box: [1166, 441, 1562, 730], title: 'XR Kratky Plot', titleY: 425.8,
    xLabel: '$QR_g$', xLabelY: 766, yLabel: '$(QR_g)^2 \u00D7 I(Q)/I_0$', yLabelX: 1116.7,
    x: {min: -0.917, max: 29.32, ticks: KR_XTICKS, labels: KR_XLABELS},
    y: {min: -6.02, max: 9.75, ticks: KR_YTICKS, labels: KR_YLABELS},
    legend: {loc: 'lower center', rowH: 21, padB: 13},
    datasets: [
      dotted(KR_X1, KR_Y1, C0, 'component-1'),
      dotted(KR_X2, KR_Y2, C1, 'component-2'),
      dotted(KR_X3, KR_Y3, C2, 'component-3')
    ],
    extras(ctx, a, xs, ys) {
      ctx.save();
      ctx.beginPath(); ctx.rect(a.left, a.top, a.right - a.left, a.bottom - a.top); ctx.clip();
      const y0 = ys.getPixelForValue(0);
      ctx.strokeStyle = 'rgba(255,0,0,0.5)'; ctx.lineWidth = LW; ctx.setLineDash([]);
      ctx.beginPath(); ctx.moveTo(a.left, y0); ctx.lineTo(a.right, y0); ctx.stroke();
      const yh = ys.getPixelForValue(KR_HLINE), xv = xs.getPixelForValue(KR_VLINE);
      ctx.strokeStyle = 'gray'; ctx.setLineDash(DOT);
      ctx.beginPath(); ctx.moveTo(a.left, yh); ctx.lineTo(a.right, yh); ctx.stroke();
      ctx.beginPath(); ctx.moveTo(xv, a.top); ctx.lineTo(xv, a.bottom); ctx.stroke();
      ctx.restore();
      ctx.setLineDash([]);
      drawRich(ctx, '3/$e$', xs.getPixelForValue(27.6), yh - 10, TICK_PX, 'left');
      // sqrt(3) label next to the vertical guide
      ctx.font = TICK_PX + 'px ' + FAM;
      const wr = ctx.measureText('\u221A').width, w3 = ctx.measureText('3').width;
      const right = xv - 3, x0 = right - wr - w3, base = a.bottom - 6.5;
      ctx.fillStyle = '#000'; ctx.textAlign = 'left'; ctx.textBaseline = 'alphabetic';
      ctx.fillText('\u221A', x0, base);
      ctx.fillText('3', x0 + wr, base);
      ctx.strokeStyle = '#000'; ctx.lineWidth = 0.8;
      ctx.beginPath(); ctx.moveTo(x0 + wr * 0.9, base - 11.2); ctx.lineTo(right + 0.5, base - 11.2); ctx.stroke();
    }
  }
];

const fig = document.getElementById('fig');
PANELS.forEach(p => {
  const cv = document.createElement('canvas');
  cv.width = 1589; cv.height = 789;
  fig.appendChild(cv);
  const [l, t, r, b] = p.box;
  new Chart(cv, {
    type: 'scatter',
    data: { datasets: p.datasets.map((d, i) => Object.assign({order: -i}, d)) },
    options: {
      responsive: false, animation: false, events: [], devicePixelRatio: 1,
      layout: { padding: { left: l - 50, top: t, right: 1589 - r, bottom: 789 - b - 30 } },
      plugins: { legend: {display: false}, tooltip: {enabled: false}, title: {display: false} },
      scales: { x: axisOpts(p.x, 'x'), y: axisOpts(p.y, 'y') }
    },
    plugins: [mplPlugin(p)]
  });
});
</script>
</body>
</html>
